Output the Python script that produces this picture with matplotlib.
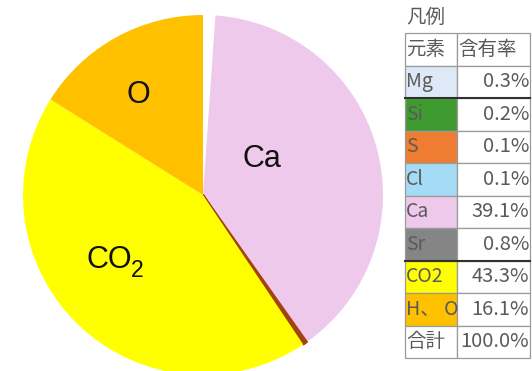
import matplotlib
matplotlib.use('Agg')
import matplotlib.pyplot as plt

plt.rcParams['font.family'] = ['Noto Sans CJK JP', 'DejaVu Sans']

# legend table (order as shown on the right)
elements = ['Mg', 'Si', 'S', 'Cl', 'Ca', 'Sr', 'CO2', 'H、 O']
contents = [0.3, 0.2, 0.1, 0.1, 39.1, 0.8, 43.3, 16.1]
cell_colors = ['#dde9f6', '#3f9b2f', '#ee7d32', '#a5dbf5', '#efc9ec', '#858585', '#ffff00', '#ffc000']

# pie slices, clockwise from 12 o'clock
pie_names = ['Mg', 'Sr', 'Ca', 'Si', 'S', 'Cl', 'CO2', 'O']
pie_values = [0.3, 0.8, 39.1, 0.2, 0.1, 0.1, 43.3, 16.1]
pie_colors = ['white', 'white', '#efc9ec', '#a3420f', '#a3420f', '#a3420f', '#ffff00', '#ffc000']

W, H = 532, 371
fig = plt.figure(figsize=(W / 100, H / 100), dpi=100)
ax = fig.add_axes([0, 0, 1, 1])

cx, cy, r = 203, 176, 180
wedges, _ = ax.pie(pie_values, colors=pie_colors, startangle=90, counterclock=False,
                   center=(cx, cy), radius=r, wedgeprops=dict(linewidth=0), frame=True)
for w, c in zip(wedges, pie_colors):
    if c == '#a3420f':
        w.set_edgecolor(c)
        w.set_linewidth(1.3)
ax.set_xlim(0, W)
ax.set_ylim(0, H)
ax.set_aspect('equal')
ax.axis('off')

lab = dict(fontsize=22, ha='left', va='baseline', family='Liberation Sans', color='#111111')
ax.text(126, 268, 'O', **lab)
ax.text(242, 204, 'Ca', **lab)
ax.text(86, 103, 'CO', **lab)
ax.text(131, 94, '2', **{**lab, 'fontsize': 16.5})

# table
grey = '#5a5a5a'
x0, x1, x2 = 405, 457, 530
top, rh = 338, 32.5
fs = 14
ax.text(x0 + 1, 354, '凡例', fontsize=fs, color=grey, va='center', ha='left')
rows = [('元素', '含有率', 'white')] + \
       [(e, f'{v:.1f}%', c) for e, v, c in zip(elements, contents, cell_colors)] + \
       [('合計', f'{sum(contents):.1f}%', 'white')]
for i, (name, val, col) in enumerate(rows):
    yt = top - i * rh
    left = plt.Rectangle((x0, yt - rh), x1 - x0, rh, facecolor=col,
                         edgecolor='#9a9a9a', linewidth=0.9)
    ax.add_patch(left)
    ax.add_patch(plt.Rectangle((x1, yt - rh), x2 - x1, rh, facecolor='white',
                               edgecolor='#9a9a9a', linewidth=0.9))
    t = ax.text(x0 + 1, yt - rh / 2, name, fontsize=fs, color=grey, va='center', ha='left')
    t.set_clip_path(left)
    if i == 0:
        ax.text(x1 + 1, yt - rh / 2, val, fontsize=fs, color=grey, va='center', ha='left')
    else:
        ax.text(x2 - 1, yt - rh / 2, val, fontsize=fs + 0.5, color=grey, va='center', ha='right')

# darker separators under Mg and Sr rows
for i in (2, 7):
    yl = top - i * rh
    ax.plot([x0, x2], [yl, yl], color='#303030', linewidth=1.5)

fig.savefig('out.png', dpi=100)
